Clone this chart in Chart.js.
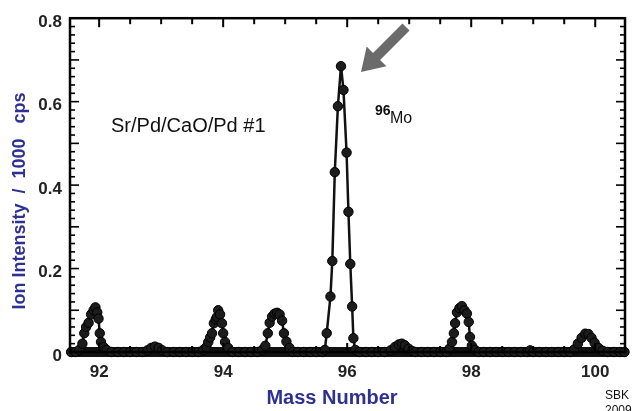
<!DOCTYPE html>
<html>
<head>
<meta charset="utf-8">
<script src="https://cdn.jsdelivr.net/npm/chart.js@4.4.1/dist/chart.umd.min.js"></script>
<style>
  html, body { margin: 0; padding: 0; background: #fff; }
  #chart { display: block; }
</style>
</head>
<body>
<canvas id="chart" width="637" height="411"></canvas>
<script>
// mass scan
const massNumber = [
  91.55, 91.62, 91.68, 91.73, 91.76, 91.79, 91.83, 91.87, 91.91, 91.94, 91.97, 91.99, 92.01, 92.03, 92.07, 92.12,
  92.2, 92.3, 92.4, 92.5, 92.6, 92.7, 92.78, 92.84, 92.9, 92.96, 93.02, 93.1, 93.2, 93.3, 93.4, 93.5, 93.6,
  93.68, 93.73, 93.76, 93.79, 93.82, 93.85, 93.88, 93.9, 93.92, 93.95, 93.98, 94.0, 94.03, 94.08, 94.15,
  94.25, 94.35, 94.45, 94.55, 94.63, 94.68, 94.72, 94.75, 94.79, 94.83, 94.87, 94.91, 94.95, 94.98, 95.02, 95.07, 95.12,
  95.2, 95.3, 95.4, 95.5, 95.6, 95.64, 95.67, 95.73, 95.76, 95.8, 95.85, 95.9, 95.94, 95.99, 96.02, 96.05, 96.08, 96.1, 96.13,
  96.2, 96.3, 96.4, 96.5, 96.6, 96.7, 96.77, 96.83, 96.88, 96.93, 96.99, 97.05, 97.1, 97.2, 97.3, 97.4, 97.5, 97.6,
  97.65, 97.69, 97.72, 97.74, 97.77, 97.81, 97.85, 97.89, 97.93, 97.96, 97.98, 98.01, 98.06, 98.12,
  98.2, 98.3, 98.4, 98.5, 98.6, 98.7, 98.8, 98.9, 98.95, 99.0, 99.1, 99.2, 99.3, 99.4, 99.5, 99.6,
  99.66, 99.72, 99.78, 99.84, 99.89, 99.94, 99.99, 100.05, 100.12, 100.2, 100.3, 100.4, 100.47
];
const ionIntensity = [
  0, 0, 0.005, 0.02, 0.045, 0.06, 0.07, 0.09, 0.1, 0.107, 0.095, 0.08, 0.045, 0.024, 0.012, 0.005,
  0, 0, 0, 0, 0, 0, 0.004, 0.01, 0.013, 0.01, 0.004, 0, 0, 0, 0, 0, 0,
  0.005, 0.012, 0.024, 0.035, 0.045, 0.069, 0.078, 0.084, 0.1, 0.09, 0.069, 0.045, 0.024, 0.01, 0,
  0, 0, 0, 0, 0.005, 0.015, 0.045, 0.07, 0.085, 0.092, 0.094, 0.09, 0.075, 0.045, 0.025, 0.01, 0,
  0, 0, 0, 0, 0, 0.005, 0.045, 0.133, 0.218, 0.431, 0.589, 0.685, 0.628, 0.478, 0.336, 0.211, 0.109, 0.033, 0.005,
  0, 0, 0, 0, 0, 0.004, 0.012, 0.018, 0.02, 0.016, 0.008, 0.002, 0, 0, 0, 0, 0, 0,
  0.008, 0.024, 0.045, 0.069, 0.095, 0.105, 0.11, 0.1, 0.092, 0.072, 0.036, 0.015, 0.005, 0,
  0, 0, 0, 0, 0, 0, 0, 0, 0.004, 0, 0, 0, 0, 0, 0, 0,
  0.006, 0.02, 0.034, 0.044, 0.043, 0.034, 0.022, 0.01, 0.003, 0, 0, 0, 0
];
// the densely sampled zero-level readings merge into one thick band
const baselineMass = [91.55, 100.47];
const baselineIntensity = [0, 0];
const xTickValues = [92, 94, 96, 98, 100];
const yTickValues = [0, 0.2, 0.4, 0.6, 0.8];
const xTitle = 'Mass Number';
const yTitle = 'Ion Intensity  /  1000   cps';
const sampleLabel = 'Sr/Pd/CaO/Pd #1';

const blue = '#2e3192';

const points = massNumber.map((m, i) => ({ x: m, y: ionIntensity[i] }));
const baseline = baselineMass.map((m, i) => ({ x: m, y: baselineIntensity[i] }));

function seg(ctx, x1, y1, x2, y2) {
  ctx.beginPath();
  ctx.moveTo(x1, y1);
  ctx.lineTo(x2, y2);
  ctx.stroke();
}

const frameAndNotes = {
  id: 'frameAndNotes',
  afterDraw(chart) {
    const ctx = chart.ctx;
    const a = chart.chartArea;
    const x = chart.scales.x, y = chart.scales.y;
    ctx.save();
    ctx.strokeStyle = '#000';
    ctx.lineWidth = 2.5;
    ctx.strokeRect(a.left, a.top, a.right - a.left, a.bottom - a.top);

    // inward ticks, left and right
    ctx.lineWidth = 1.6;
    for (let i = 0; i <= 40; i++) {
      const py = y.getPixelForValue(i * 0.02);
      const len = i % 5 === 0 ? 9 : 5;
      seg(ctx, a.left, py, a.left + len, py);
      seg(ctx, a.right, py, a.right - len, py);
    }
    // inward ticks, top and bottom
    ctx.lineWidth = 2;
    for (let k = 0; k <= 16; k++) {
      const m = 92 + k * 0.5;
      const px = x.getPixelForValue(m);
      const len = k % 4 === 0 ? 9 : 6;
      seg(ctx, px, a.top, px, a.top + len);
      seg(ctx, px, a.bottom, px, a.bottom - len);
    }

    // arrow pointing at the 96Mo peak
    const tail = { x: 406, y: 27 }, tip = { x: 361, y: 72 };
    const dx = tip.x - tail.x, dy = tip.y - tail.y;
    const L = Math.hypot(dx, dy);
    const ux = dx / L, uy = dy / L, nx = -uy, ny = ux;
    const hl = 22, hw = 14, sw = 5;
    const bx = tip.x - ux * hl, by = tip.y - uy * hl;
    ctx.fillStyle = '#6b6b6b';
    ctx.beginPath();
    ctx.moveTo(tail.x + nx * sw, tail.y + ny * sw);
    ctx.lineTo(bx + nx * sw, by + ny * sw);
    ctx.lineTo(bx + nx * hw, by + ny * hw);
    ctx.lineTo(tip.x, tip.y);
    ctx.lineTo(bx - nx * hw, by - ny * hw);
    ctx.lineTo(bx - nx * sw, by - ny * sw);
    ctx.lineTo(tail.x - nx * sw, tail.y - ny * sw);
    ctx.closePath();
    ctx.fill();

    // annotations
    ctx.fillStyle = '#111';
    ctx.textBaseline = 'alphabetic';
    ctx.textAlign = 'left';
    ctx.font = '20px "Liberation Sans", Arial, sans-serif';
    ctx.fillText(sampleLabel, 111, 132);
    ctx.font = 'bold 14px "Liberation Sans", Arial, sans-serif';
    ctx.fillText('96', 375, 115);
    ctx.font = '16px "Liberation Sans", Arial, sans-serif';
    ctx.fillText('Mo', 390, 123);
    ctx.font = '12px "Liberation Sans", Arial, sans-serif';
    ctx.fillText('SBK', 605, 399);
    ctx.fillText('2009', 605, 414);

    // axis titles
    ctx.fillStyle = blue;
    ctx.textAlign = 'center';
    ctx.textBaseline = 'middle';
    ctx.font = 'bold 20px "Liberation Sans", Arial, sans-serif';
    ctx.fillText(xTitle, 332, 398);
    ctx.font = 'bold 18px "Liberation Sans", Arial, sans-serif';
    ctx.translate(20, 201);
    ctx.rotate(-Math.PI / 2);
    ctx.fillText(yTitle, 0, 0);
    ctx.restore();
  }
};

const tickFont = { family: '"Liberation Sans", Arial, sans-serif', size: 17, weight: 'bold' };

new Chart(document.getElementById('chart'), {
  type: 'scatter',
  data: {
    datasets: [{
      data: points,
      order: 1,
      showLine: true,
      borderColor: '#111',
      borderWidth: 2.5,
      pointRadius: 4.7,
      pointBackgroundColor: '#1c1c1c',
      pointBorderColor: '#000',
      pointBorderWidth: 1,
      clip: false
    }, {
      data: baseline,
      order: 2,
      showLine: true,
      borderColor: '#111',
      borderWidth: 10,
      borderCapStyle: 'round',
      pointRadius: 0,
      clip: false
    }]
  },
  options: {
    responsive: false,
    animation: false,
    devicePixelRatio: 1,
    layout: { padding: { top: 14, right: 12, left: 0, bottom: 0 } },
    plugins: { legend: { display: false }, tooltip: { enabled: false } },
    scales: {
      x: {
        type: 'linear',
        min: 91.53,
        max: 100.48,
        afterFit: s => { s.height = 59; },
        afterBuildTicks: s => { s.ticks = xTickValues.map(v => ({ value: v })); },
        grid: { display: false, drawTicks: false },
        border: { display: false },
        ticks: { font: tickFont, color: '#222', padding: 10, maxRotation: 0, callback: v => String(v) }
      },
      y: {
        min: 0,
        max: 0.8,
        afterFit: s => { s.width = 70; },
        afterBuildTicks: s => { s.ticks = yTickValues.map(v => ({ value: v })); },
        grid: { display: false, drawTicks: false },
        border: { display: false },
        ticks: { font: tickFont, color: '#222', padding: 8, labelOffset: 4, callback: v => v === 0 ? '0' : v.toFixed(1) }
      }
    }
  },
  plugins: [frameAndNotes]
});
</script>
</body>
</html>
